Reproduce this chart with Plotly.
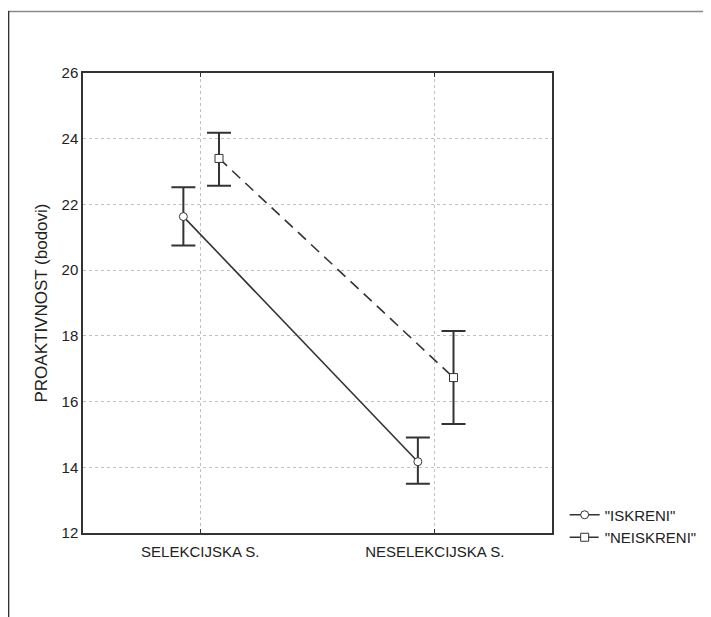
import plotly.graph_objects as go

categories = ["SELEKCIJSKA S.", "NESELEKCIJSKA S."]
cat_pos = [1, 2]
series_names = ['"ISKRENI"', '"NEISKRENI"']
offsets = [-0.072, 0.08]
iskreni_mean = [21.63, 14.17]
iskreni_upper = [22.52, 14.91]
iskreni_lower = [20.75, 13.50]
neiskreni_mean = [23.40, 16.73]
neiskreni_upper = [24.18, 18.15]
neiskreni_lower = [22.57, 15.32]
y_ticks = [12, 14, 16, 18, 20, 22, 24, 26]

OFF = 8  # page body margin
W, H = 711 - OFF, 617 - OFF
L, R, T, B = 83 - OFF, 552.5 - OFF, 73 - OFF, 533.5 - OFF

FONT = "Arial, Liberation Sans, sans-serif"
fig = go.Figure()
col = "#333333"
series = [
    (iskreni_mean, iskreni_upper, iskreni_lower, "circle", "solid"),
    (neiskreni_mean, neiskreni_upper, neiskreni_lower, "square", "11px,7px"),
]
for name, off, (m, up, lo, sym, dash) in zip(series_names, offsets, series):
    fig.add_trace(go.Scatter(
        x=[p + off for p in cat_pos], y=m, name=name,
        mode="lines+markers",
        line=dict(color=col, width=1.6, dash=dash),
        marker=dict(symbol=sym, size=8, color="white", line=dict(color=col, width=1)),
        error_y=dict(type="data", symmetric=False,
                     array=[u - v for u, v in zip(up, m)],
                     arrayminus=[v - l for v, l in zip(m, lo)],
                     color=col, thickness=2, width=12),
    ))

pw, ph = R - L, B - T
def px_x(x):
    return (x - OFF - L) / pw
def px_y(y):
    return (B - (y - OFF)) / ph

shapes = [
    dict(type="line", xref="paper", yref="paper", x0=px_x(7), x1=px_x(715), y0=px_y(11.5), y1=px_y(11.5),
         line=dict(color="#8a8a8a", width=1.5)),
    dict(type="line", xref="paper", yref="paper", x0=px_x(8.5), x1=px_x(8.5), y0=px_y(11), y1=px_y(620),
         line=dict(color="#333333", width=1.5)),
]
fig.update_layout(shapes=shapes)

fig.update_xaxes(
    range=[0.5, 2.5], tickvals=cat_pos, ticktext=categories,
    showgrid=True, gridcolor="#c0c0c0", griddash="dot", gridwidth=1,
    showline=True, linecolor="#333333", linewidth=1.5, mirror="allticks",
    ticks="inside", ticklen=4, tickcolor="#333333", ticklabelstandoff=4,
    zeroline=False, tickfont=dict(family=FONT, size=15, color="#222"),
)
fig.update_yaxes(
    range=[12, 26], tickvals=y_ticks,
    showgrid=True, gridcolor="#c0c0c0", griddash="dot", gridwidth=1,
    showline=True, linecolor="#333333", linewidth=1.5, mirror=True,
    ticks="", zeroline=False,
    tickfont=dict(family=FONT, size=15, color="#222"),
    title=dict(text="PROAKTIVNOST (bodovi)", standoff=10,
               font=dict(family=FONT, size=17, color="#222")),
)
fig.update_layout(
    width=W, height=H,
    margin=dict(l=L, r=W - R, t=T, b=H - B, autoexpand=False),
    paper_bgcolor="white", plot_bgcolor="white",
    showlegend=True,
    legend=dict(x=1.027, xanchor="left", y=0.075, yanchor="top",
                font=dict(family=FONT, size=15, color="#222"),
                bgcolor="rgba(0,0,0,0)", itemwidth=30, tracegroupgap=0),
)
fig.write_html("out.html")
